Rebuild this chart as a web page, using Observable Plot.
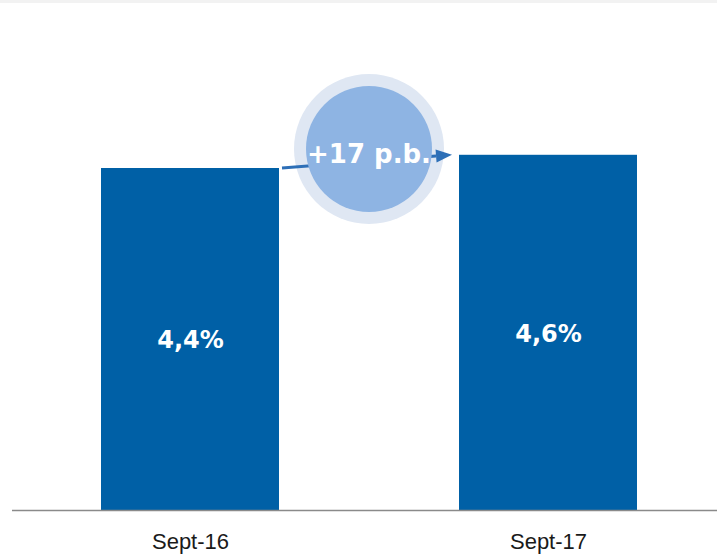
<!DOCTYPE html>
<html>
<head>
<meta charset="utf-8">
<script src="https://cdn.jsdelivr.net/npm/d3@7"></script>
<script src="https://cdn.jsdelivr.net/npm/@observablehq/plot@0.6"></script>
<style>
  html, body { margin: 0; padding: 0; background: #ffffff; }
  #wrap { position: relative; width: 717px; height: 560px; }
  #topband { position: absolute; left: 0; top: 0; width: 717px; height: 3px; background: #f2f2f2; }
</style>
</head>
<body>
<div id="wrap"><div id="topband"></div></div>
<script>
// ---- data ----
const periods = ["Sept-16", "Sept-17"];
const values = [4.40, 4.57];
const valueLabels = ["4,4%", "4,6%"];
const changeLabel = "+17 p.b.";
const bubbleLevel = 4.645; // vertical level of the change bubble (in % units)

const rows = periods.map((p, i) => ({period: p, value: values[i], label: valueLabels[i]}));

const barColor = "#0060a6";
const arrowColor = "#2d6fb7";
const ringColor = "#dfe7f3";
const bubbleColor = "#8eb4e3";

const pxPerUnit = 342 / 4.4;

function changeBubble(index, scales, chValues, dimensions) {
  const sx = scales.x, sy = scales.y;
  const bw = typeof sx.bandwidth === "function" ? sx.bandwidth()
           : (scales.scales && scales.scales.x ? scales.scales.x.bandwidth : 0);
  const xa = sx(periods[0]), xb = sx(periods[1]);
  const cx = (xa + xb + bw) / 2;
  const cy = sy(bubbleLevel);
  const x1 = xa + bw + 3, y1 = sy(values[0]);
  const x2 = xb - 7, y2 = sy(values[1]);
  const g = d3.create("svg:g");
  g.append("circle").attr("cx", cx).attr("cy", cy).attr("r", 75).attr("fill", ringColor);
  const ang = Math.atan2(y2 - y1, x2 - x1);
  const headLen = 16, headHalf = 6.5;
  const bx = x2 - headLen * Math.cos(ang), by = y2 - headLen * Math.sin(ang);
  g.append("line").attr("x1", x1).attr("y1", y1).attr("x2", bx).attr("y2", by)
    .attr("stroke", arrowColor).attr("stroke-width", 3);
  g.append("circle").attr("cx", cx).attr("cy", cy).attr("r", 63).attr("fill", bubbleColor);
  const px = -Math.sin(ang), py = Math.cos(ang);
  g.append("path")
    .attr("d", `M${x2},${y2}L${bx + px * headHalf},${by + py * headHalf}L${bx - px * headHalf},${by - py * headHalf}Z`)
    .attr("fill", arrowColor);
  g.append("text").attr("x", cx).attr("y", cy + 14)
    .attr("text-anchor", "middle")
    .attr("font-family", "'DejaVu Sans', sans-serif")
    .attr("font-weight", "bold")
    .attr("font-size", 26)
    .attr("fill", "#ffffff")
    .text(changeLabel);
  return g.node();
}

const chart = Plot.plot({
  width: 717,
  height: 560,
  marginLeft: 12,
  marginRight: 0,
  marginTop: 0,
  marginBottom: 50,
  style: {background: "transparent", fontFamily: "'Liberation Sans', Arial, sans-serif"},
  x: {type: "band", domain: periods, range: [12, 726], paddingInner: 0.503, paddingOuter: 0.2486, label: null},
  y: {domain: [0, 6], range: [510, 510 - 6 * pxPerUnit], axis: null},
  marks: [
    Plot.barY(rows, {x: "period", y: "value", fill: barColor}),
    Plot.ruleY([0], {stroke: "#8a8a8a", strokeWidth: 1.5}),
    Plot.text(rows, {
      x: "period", y: d => d.value / 2, text: "label",
      fill: "#ffffff", fontSize: 24, fontWeight: "bold",
      fontFamily: "'DejaVu Sans', sans-serif", dy: 1
    }),
    Plot.axisX({tickSize: 0, tickPadding: 23, fontSize: 22, fill: "#1a1a1a", label: null}),
    changeBubble
  ]
});
chart.style.position = "absolute";
chart.style.left = "0";
chart.style.top = "0";
document.getElementById("wrap").insertBefore(chart, document.getElementById("topband"));
</script>
</body>
</html>
